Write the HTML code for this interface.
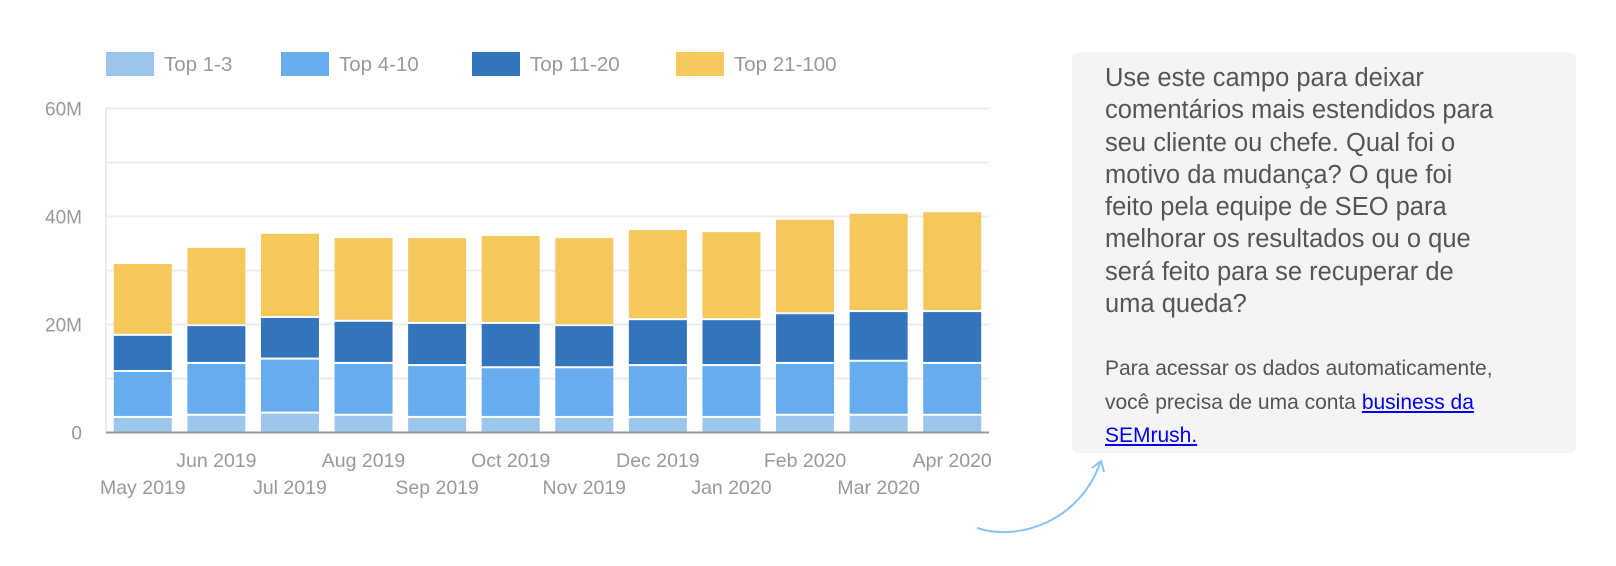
<!DOCTYPE html>
<html><head><meta charset="utf-8">
<style>
body{margin:0;width:1616px;height:566px;background:#fff;overflow:hidden;font-family:"Liberation Sans",sans-serif;position:relative}
.note{position:absolute;left:1072px;top:52px;width:504px;height:401px;background:#f4f4f4;border-radius:7px}
.p1{position:absolute;left:33px;top:10px;font-size:25.5px;line-height:32.3px;color:#555;white-space:nowrap}
.p2{position:absolute;left:33px;top:300px;font-size:21px;line-height:33.5px;color:#555;white-space:nowrap}
.p2 a{color:#0000ee;text-decoration:underline}
</style></head><body>
<svg id="chart" width="1000" height="566" style="position:absolute;left:0;top:0" font-family="Liberation Sans, sans-serif"></svg>
<svg width="1616" height="566" style="position:absolute;left:0;top:0;pointer-events:none">
<path d="M977,528 C1020,542 1080,520 1100,463" fill="none" stroke="#8cc2ef" stroke-width="2"/>
<path d="M1092,468 L1101,461 L1104,472" fill="none" stroke="#8cc2ef" stroke-width="2"/>
</svg>
<div class="note">
<div class="p1">Use este campo para deixar<br>comentários mais estendidos para<br>seu cliente ou chefe. Qual foi o<br>motivo da mudança? O que foi<br>feito pela equipe de SEO para<br>melhorar os resultados ou o que<br>será feito para se recuperar de<br>uma queda?</div>
<div class="p2">Para acessar os dados automaticamente,<br>você precisa de uma conta <a href="#">business da<br>SEMrush.</a></div>
</div>
<script>
const categories=["May 2019","Jun 2019","Jul 2019","Aug 2019","Sep 2019","Oct 2019","Nov 2019","Dec 2019","Jan 2020","Feb 2020","Mar 2020","Apr 2020"];
const seriesNames=["Top 1-3","Top 4-10","Top 11-20","Top 21-100"];
const top1_3=[2.7,3.1,3.5,3.1,2.7,2.7,2.7,2.7,2.7,3.1,3.1,3.1];
const top4_10=[8.5,9.6,10.0,9.6,9.6,9.2,9.2,9.6,9.6,9.6,10.0,9.6];
const top11_20=[6.7,7.0,7.7,7.8,7.8,8.2,7.8,8.5,8.5,9.2,9.2,9.6];
const top21_100=[13.3,14.5,15.6,15.5,15.9,16.3,16.3,16.7,16.3,17.5,18.2,18.5];
const yTicks=[0,20,40,60];
const yTickLabels=["0","20M","40M","60M"];
const colors=["#9dc6ec","#67acec","#3275bc","#f5c85c"];
const NS="http://www.w3.org/2000/svg";
const svg=document.getElementById('chart');
const X0=106,X1=989,Y0=432.5,PPM=5.4;
const slot=(X1-X0)/categories.length,BW=58;
function y(v){return Y0-v*PPM;}
function x(i){return X0+i*slot+(slot-BW)/2;}
function mk(t,a){const e=document.createElementNS(NS,t);for(const k in a)e.setAttribute(k,a[k]);svg.appendChild(e);return e;}
// gridlines every 10M
for(let v=10;v<=60;v+=10){const g=mk('line',{x1:X0,x2:X1,y1:y(v),y2:y(v),stroke:'#ececec','stroke-width':2});

}
const ax=mk('line',{x1:X0,x2:X0,y1:y(60),y2:Y0,stroke:'#ececec','stroke-width':2});


yTicks.forEach((v,i)=>{const t=mk('text',{x:82,y:y(v)+7,'text-anchor':'end','font-size':19,fill:'#999'});t.textContent=yTickLabels[i];

});
const series=[top1_3,top4_10,top11_20,top21_100];
categories.forEach((c,i)=>{let cum=0;series.forEach((s,k)=>{const v=s[i];const yt=y(cum+v),yb=y(cum)-(k>0?2:0);
const r=mk('rect',{x:x(i),y:yt,width:BW,height:Math.max(0,yb-yt),fill:colors[k]});


cum+=v;});
const t=mk('text',{x:x(i)+BW/2,y:(i%2?467:494),'text-anchor':'middle','font-size':19.5,fill:'#999'});t.textContent=c;

});
const base=mk('line',{x1:X0,x2:X1,y1:Y0,y2:Y0,stroke:'#999','stroke-width':2});


const legX=[106,281,472,676];
seriesNames.forEach((n,k)=>{const r=mk('rect',{x:legX[k],y:52,width:48,height:24,fill:colors[k]});


const t=mk('text',{x:legX[k]+58,y:71,'font-size':20.5,fill:'#999'});t.textContent=n;

});
</script>
</body></html>
